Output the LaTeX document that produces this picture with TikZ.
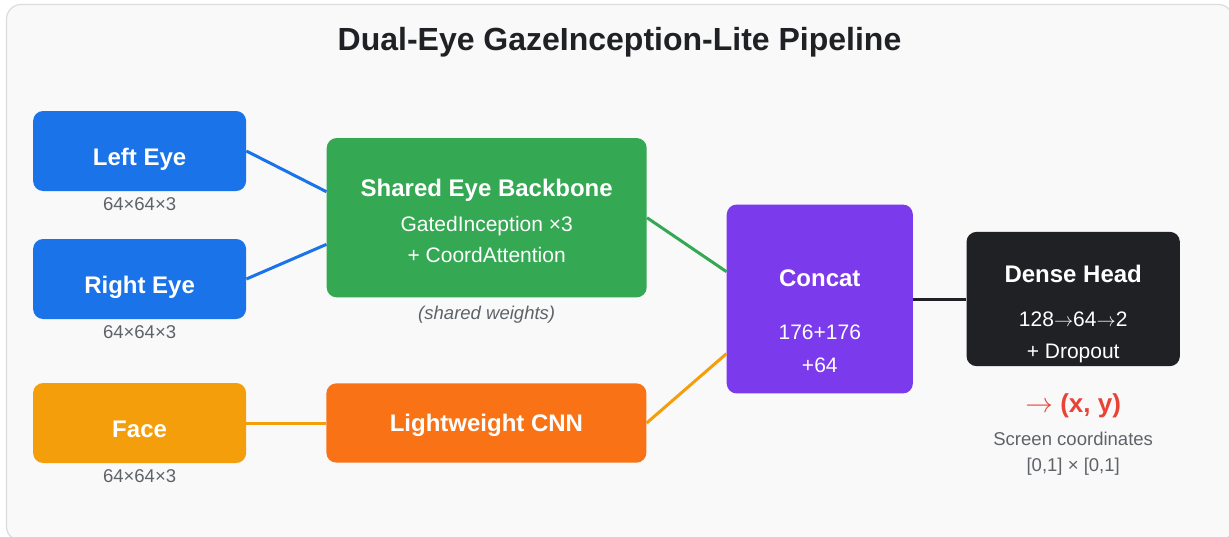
\documentclass[tikz,border=0pt]{standalone}
\usepackage{fontspec}
\setmainfont{Liberation Sans}
\usetikzlibrary{positioning}

\definecolor{eyeblue}{HTML}{1A73E8}
\definecolor{stemgreen}{HTML}{34A853}
\definecolor{faceorange}{HTML}{F59E0B}
\definecolor{cnnorange}{HTML}{F97316}
\definecolor{concatpurple}{HTML}{7C3AED}
\definecolor{headdark}{HTML}{202124}
\definecolor{outred}{HTML}{EA4335}
\definecolor{subgray}{HTML}{5F6368}
\definecolor{framebg}{HTML}{F9F9FA}
\definecolor{framegray}{HTML}{DADCE0}

\begin{document}
\begin{tikzpicture}[x=0.75pt, y=-0.75pt,
    box/.style={rectangle, rounded corners=7.5pt, inner sep=0pt},
    boxtitle/.style={text=white, font=\fontsize{18}{21}\selectfont\bfseries},
    boxtext/.style={text=white, font=\fontsize{15.75}{19}\selectfont},
    dims/.style={inner sep=0pt, text=subgray, font=\fontsize{13.9}{16}\selectfont},
    link/.style={line width=2.25pt}]

    \useasboundingbox (0,0) rectangle (1229,536);
    \fill[white] (0,0) rectangle (1229,536);
    \draw[framegray, fill=framebg, line width=0.9pt, rounded corners=11pt] (6.5,4.5) rectangle (1233,541);

    % Title
    \node (title) [anchor=base, text=headdark, font=\fontsize{24}{28}\selectfont\bfseries] at (619.5,50.7) {Dual-Eye GazeInception-Lite Pipeline};

    % Nodes
    \node (left) [box, fill=eyeblue, minimum width=159.75pt, minimum height=60pt, boxtitle, text height=21pt, text depth=0pt] at (139.6,151) {Left Eye};
    \node (right) [box, fill=eyeblue, minimum width=159.75pt, minimum height=60pt, boxtitle, text height=21pt, text depth=0pt] at (139.6,279) {Right Eye};
    \node (face) [box, fill=faceorange, minimum width=159.75pt, minimum height=60pt, boxtitle, text height=21pt, text depth=0pt] at (139.6,423) {Face};
    \node (backbone) [box, fill=stemgreen, minimum width=240pt, minimum height=119.5pt] at (486.7,217.7) {};
    \node (cnn) [box, fill=cnnorange, minimum width=240pt, minimum height=59.5pt, boxtitle, text height=12pt, text depth=0pt] at (486.4,423) {Lightweight CNN};
    \node (concat) [box, fill=concatpurple, minimum width=139.6pt, minimum height=141.7pt] at (819.8,299) {};
    \node (dense) [box, fill=headdark, minimum width=160pt, minimum height=100.7pt] at (1073.2,299) {};

    % Box texts
    \node (bbname) [boxtitle, anchor=base] at (486.7,196.7) {Shared Eye Backbone};
    \node (bbgates) [boxtext, anchor=base] at (486.7,231) {GatedInception ×3};
    \node (bbattn) [boxtext, anchor=base] at (486.7,262.7) {+ CoordAttention};
    \node (ccname) [boxtitle, anchor=base] at (819.8,286.2) {Concat};
    \node (ccsum) [boxtext, anchor=base] at (819.8,339.5) {176+176};
    \node (ccface) [boxtext, anchor=base] at (819.8,372.2) {+64};
    \node (dhname) [boxtitle, anchor=base] at (1073.2,282.8) {Dense Head};
    \node (dhunits) [boxtext, anchor=base] at (1073.2,326.6) {128$\rightarrow$64$\rightarrow$2};
    \node (dhdrop) [boxtext, anchor=base] at (1073.2,358.7) {+ Dropout};

    % Edges
    \draw[link, eyeblue] (left.east) -- ([yshift=19.5pt]backbone.west);
    \draw[link, eyeblue] (right.east) -- ([yshift=-20pt]backbone.west);
    \draw[link, faceorange] (face) -- (cnn);
    \draw[link, stemgreen] (backbone.east) -- ([yshift=20.5pt]concat.west);
    \draw[link, faceorange] (cnn.east) -- ([yshift=-41pt]concat.west);
    \draw[link, headdark] (concat) -- (dense);

    % Annotations
    \node (leftdims) [dims, below=4.3pt of left] {64×64×3};
    \node (rightdims) [dims, below=4.3pt of right] {64×64×3};
    \node (facedims) [dims, below=4.3pt of face] {64×64×3};
    \node (shared) [dims, font=\fontsize{13.9}{16}\selectfont\itshape, below=6pt of backbone] {(shared weights)};
    \node (output) [anchor=base, text=outred, font=\fontsize{19.5}{23}\selectfont\bfseries] at (1073.2,412.7) {$\rightarrow$ (x, y)};
    \node (screen) [dims, anchor=base] at (1073.2,445.4) {Screen coordinates};
    \node (range) [dims, anchor=base] at (1073.2,471.7) {[0,1] × [0,1]};
\end{tikzpicture}
\end{document}
